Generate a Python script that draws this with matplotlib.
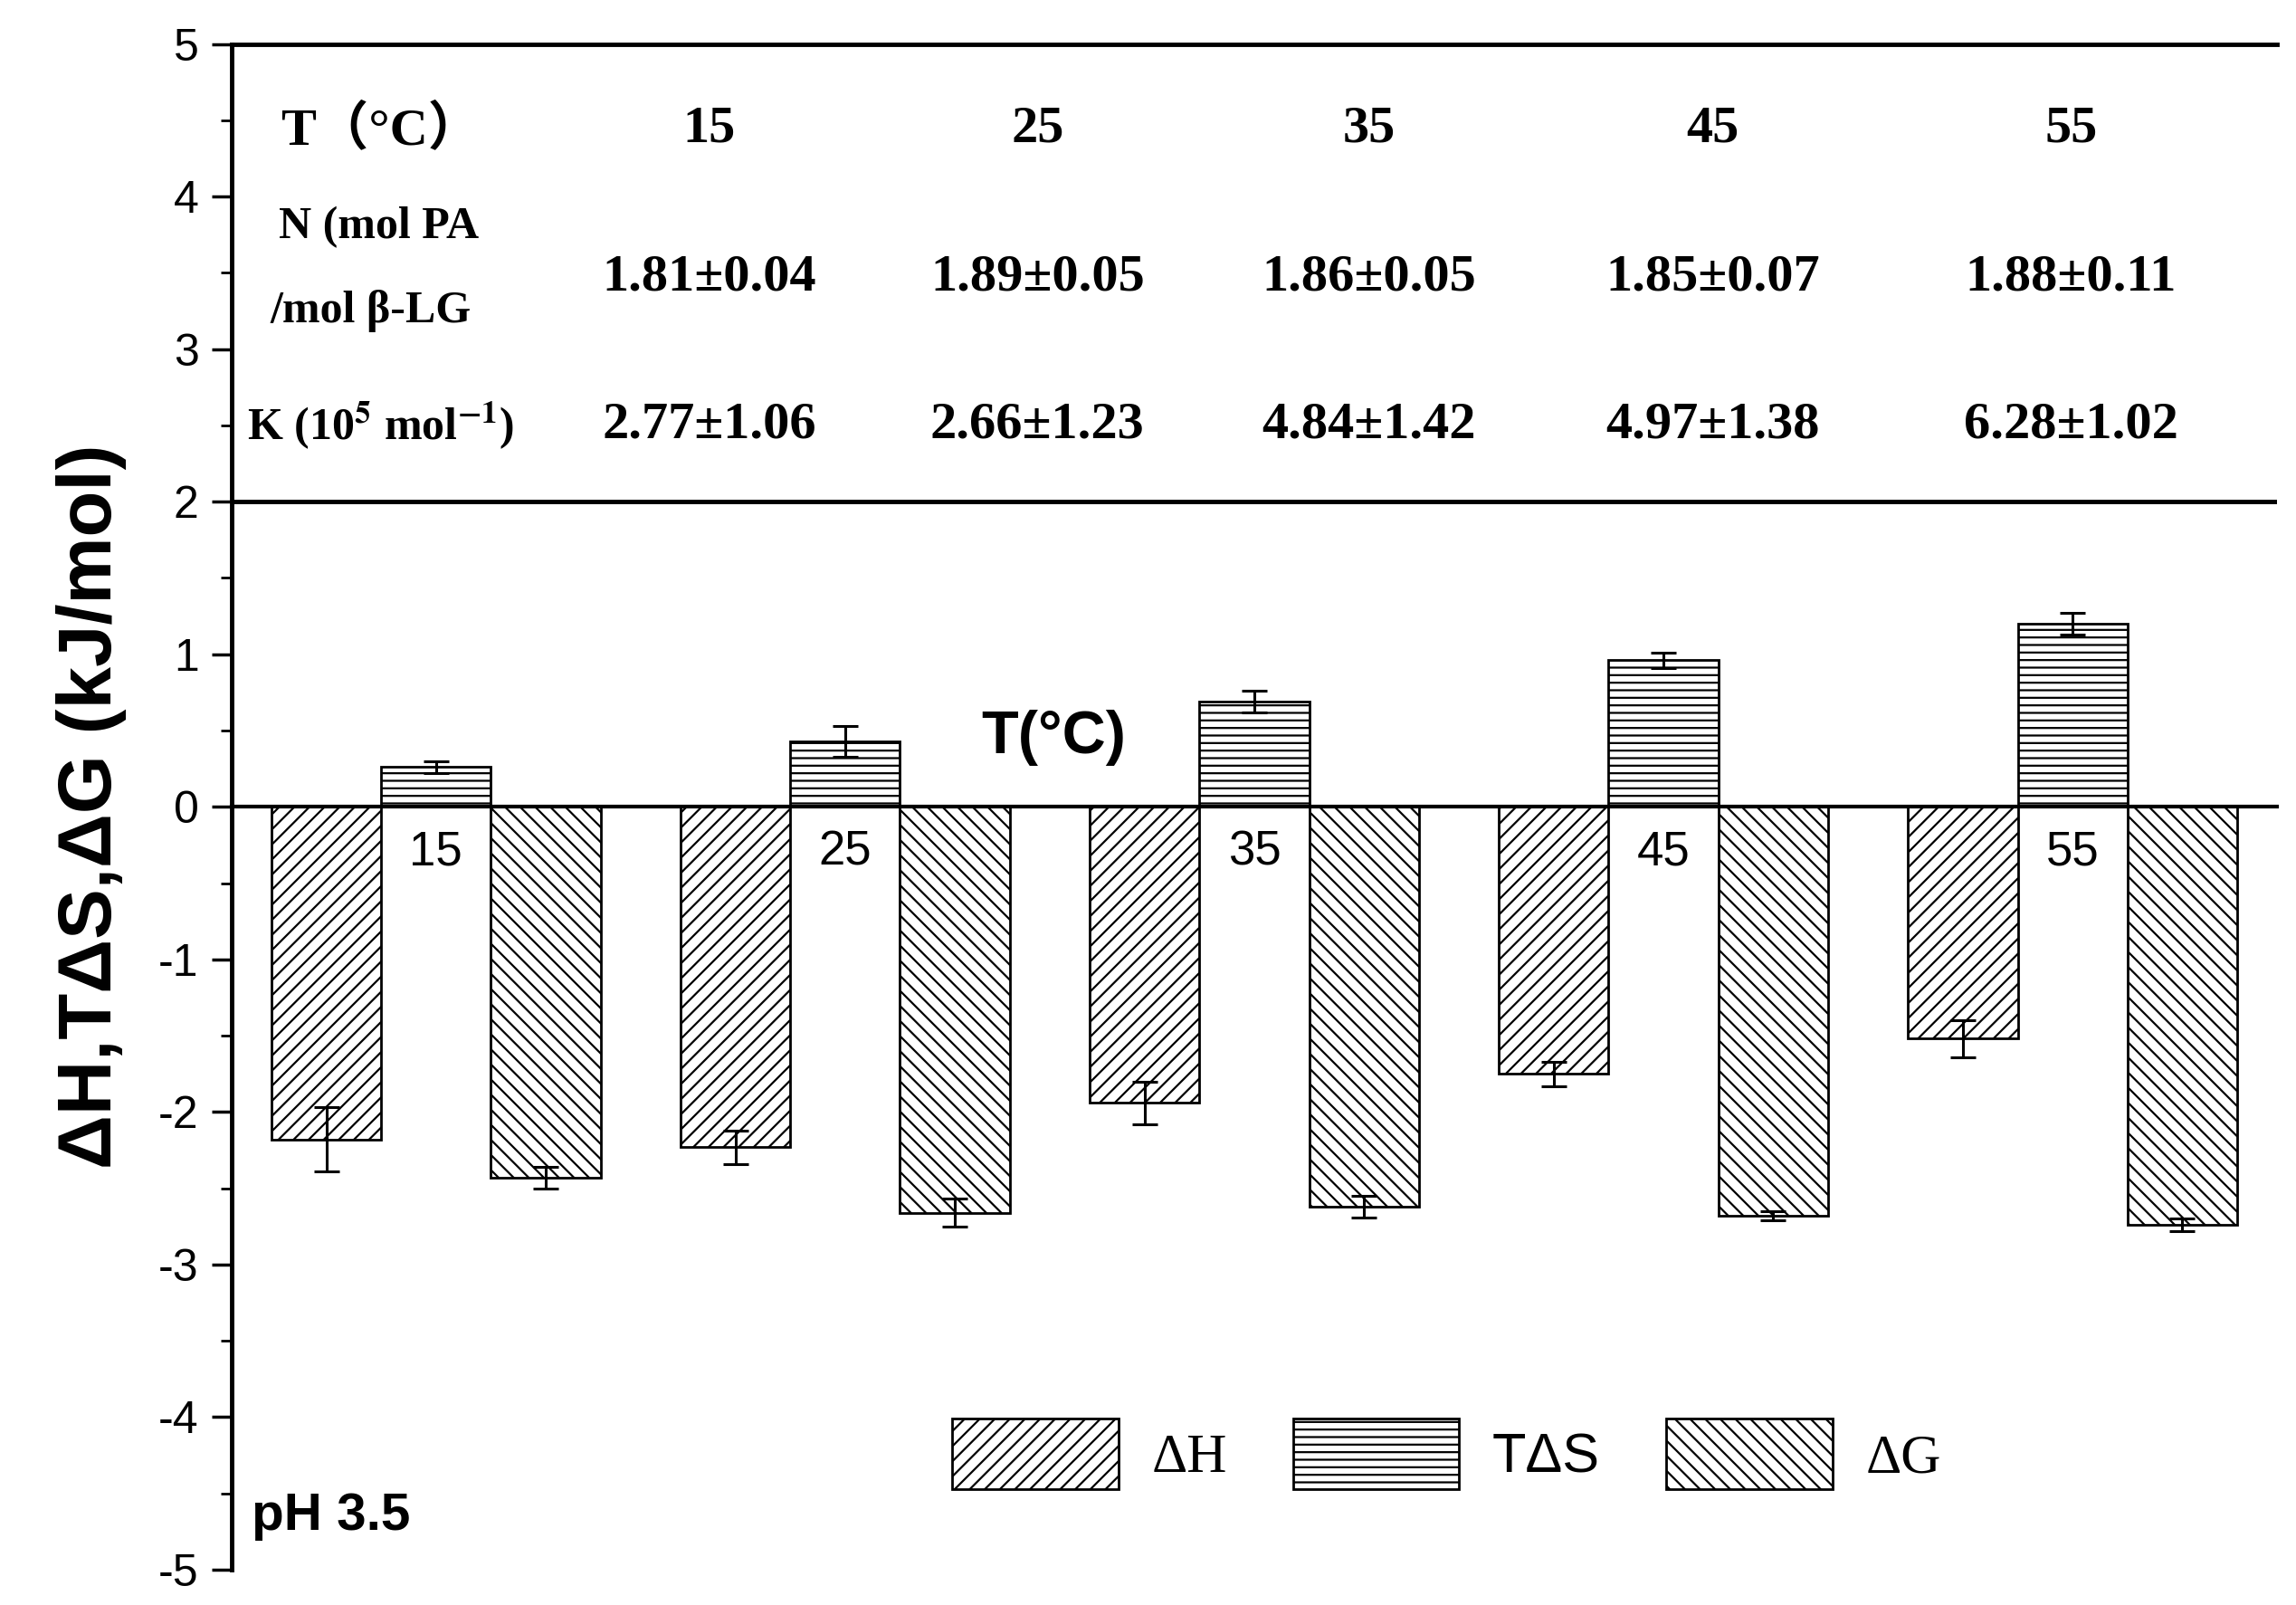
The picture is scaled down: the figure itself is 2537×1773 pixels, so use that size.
import matplotlib
matplotlib.use("Agg")
import matplotlib.pyplot as plt
import numpy as np

temps = ["15", "25", "35", "45", "55"]
dH = [-2.18, -2.23, -1.94, -1.75, -1.52]
dH_err = [0.21, 0.11, 0.14, 0.08, 0.12]
TdS = [0.26, 0.43, 0.69, 0.96, 1.20]
TdS_err = [0.04, 0.10, 0.07, 0.05, 0.07]
dG = [-2.43, -2.66, -2.62, -2.68, -2.74]
dG_err = [0.07, 0.09, 0.07, 0.03, 0.04]
N_vals = ["1.81±0.04", "1.89±0.05", "1.86±0.05", "1.85±0.07", "1.88±0.11"]
K_vals = ["2.77±1.06", "2.66±1.23", "4.84±1.42", "4.97±1.38", "6.28±1.02"]

plt.rcParams['hatch.linewidth'] = 1.6
plt.rcParams['mathtext.fontset'] = 'stix'
plt.rcParams['axes.unicode_minus'] = False
plt.rcParams['font.family'] = ['Liberation Sans', 'DejaVu Sans']
fig = plt.figure(figsize=(25.37, 17.73), dpi=100)
ax = fig.add_axes([0.1008, 0.022, 0.891, 0.9506])
x = np.arange(len(temps))
w = 0.268
ekw = dict(elinewidth=2.2, capthick=2.2, capsize=10, ecolor='black')
ax.bar(x - w, dH, w, yerr=dH_err, color='white', edgecolor='black', hatch='//', lw=2, label='ΔH', error_kw=ekw)
ax.bar(x, TdS, w, yerr=TdS_err, color='white', edgecolor='black', hatch='--', lw=2, label='TΔS', error_kw=ekw)
ax.bar(x + w, dG, w, yerr=dG_err, color='white', edgecolor='black', hatch='\\\\', lw=2, label='ΔG', error_kw=ekw)

ax.set_xlim(-0.5, 4.5)
ax.set_ylim(-5, 5)
for s in ['top', 'right']:
    ax.spines[s].set_visible(False)
ax.spines['bottom'].set_position(('data', 0))
ax.spines['bottom'].set_linewidth(3)
ax.spines['left'].set_linewidth(3.5)
ax.set_xticks(x)
ax.set_xticklabels(temps)
ax.tick_params(axis='x', length=0, pad=18, labelsize=38)
ax.set_yticks(range(-5, 6))
ax.set_yticks(np.arange(-4.5, 5, 1), minor=True)
ax.tick_params(axis='y', which='major', length=16, width=2.5, labelsize=36, pad=10)
ax.tick_params(axis='y', which='minor', length=9, width=2)
ax.set_ylabel('ΔH,TΔS,ΔG (kJ/mol)', fontsize=60, fontweight='bold', labelpad=25)

ax.axhline(5, color='black', lw=3.5, clip_on=False)
ax.axhline(2, color='black', lw=3.5)

serif = ['Liberation Serif', 'Noto Sans CJK SC']
cols = [0.668, 1.47, 2.28, 3.12, 3.996]
tk = dict(ha='center', va='center', fontsize=42, fontweight='bold', family=serif)
ax.text(-0.136, 4.44, 'T（°C）', **tk)
ax.text(-0.14, 3.8, 'N (mol PA', **{**tk, 'fontsize': 36})
ax.text(-0.16, 3.25, '/mol β-LG', **{**tk, 'fontsize': 36})
ax.text(-0.136, 2.5, r'K (10$^{\mathbf{5}}$ mol$^{\mathbf{-1}}$)', **{**tk, 'fontsize': 36})
for c, t, n, k in zip(cols, temps, N_vals, K_vals):
    ax.text(c, 4.44, t, **tk)
    ax.text(c, 3.47, n, **tk)
    ax.text(c, 2.5, k, **tk)

ax.text(1.51, 0.45, 'T(°C)', ha='center', va='center', fontsize=48, fontweight='bold')
ax.text(-0.45, -4.65, 'pH 3.5', ha='left', va='center', fontsize=42, fontweight='bold')

leg = ax.legend(loc='lower right', bbox_to_anchor=(0.86, 0.02), ncol=3, frameon=False,
                fontsize=44, handlelength=3.0, handleheight=1.6, columnspacing=1.2, handletextpad=0.6)
for t in leg.get_texts():
    if t.get_text() != 'TΔS':
        t.set_family('Liberation Serif')

fig.savefig('out.png', dpi=100)
